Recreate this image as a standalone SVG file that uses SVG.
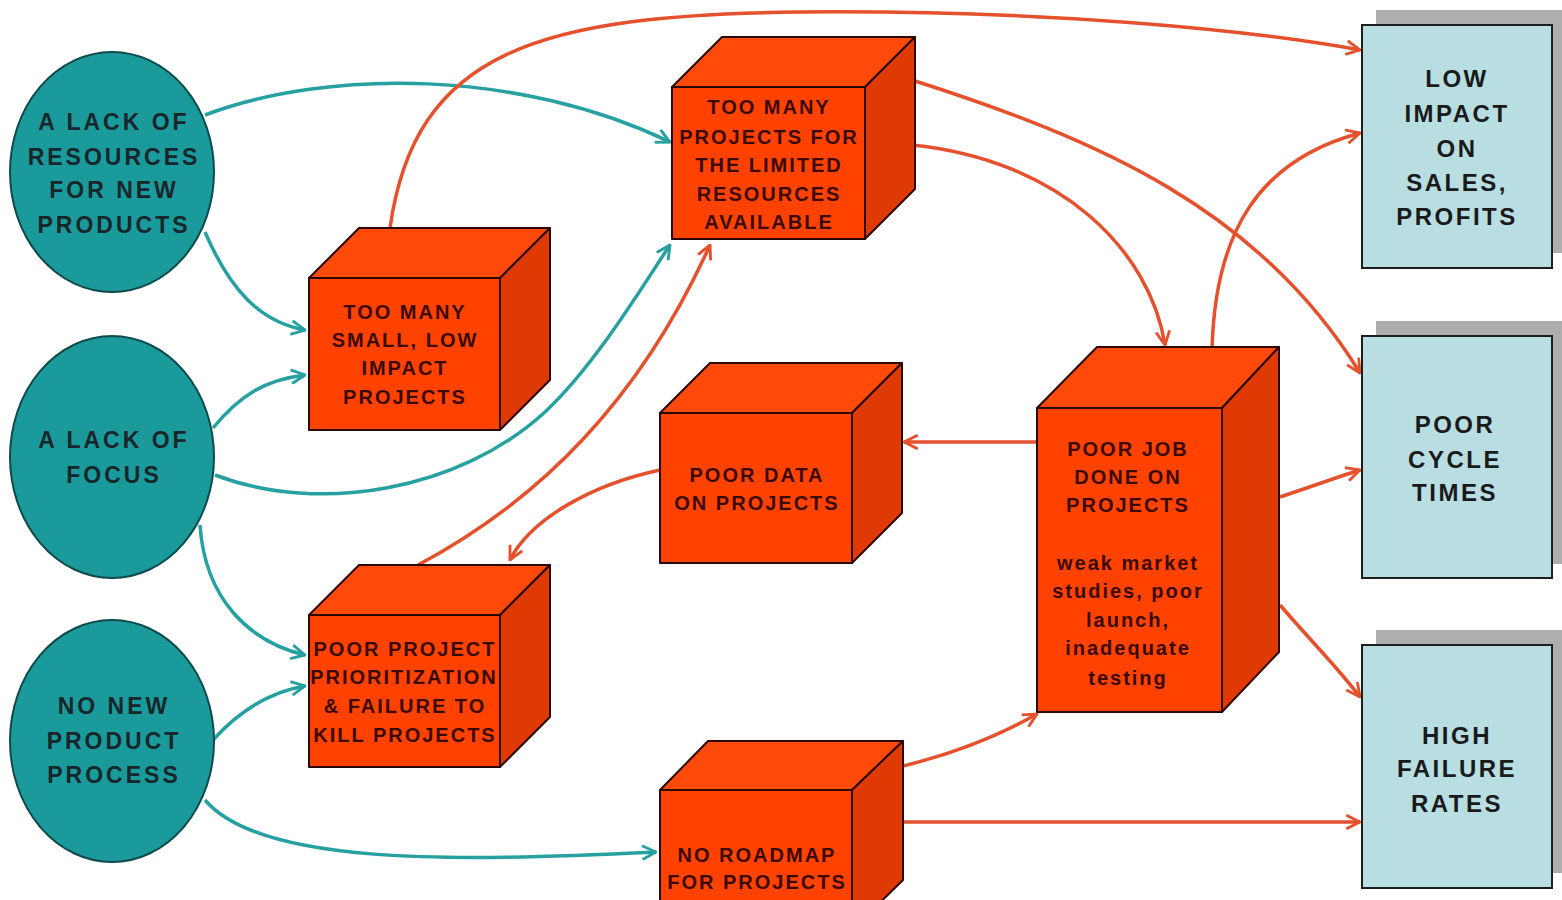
<svg xmlns="http://www.w3.org/2000/svg" width="1562" height="900" viewBox="0 0 1562 900">
<defs>
<style>
.ell{fill:#1B9A9C;stroke:#0E4A4A;stroke-width:2}
.front{fill:#FF4200;stroke:#2A0800;stroke-width:2;stroke-linejoin:round}
.top{fill:#FF4A0A;stroke:#2A0800;stroke-width:2;stroke-linejoin:round}
.side{fill:#E03A04;stroke:#2A0800;stroke-width:2;stroke-linejoin:round}
.box{fill:#B8DEE2;stroke:#1E1E1E;stroke-width:2}
.shadow{fill:#AEAEAE}
.t{font-family:"Liberation Sans",Arial,sans-serif;font-weight:bold;text-anchor:middle}
.te{font-size:23px;letter-spacing:3px;fill:#16262a}
.tc{font-size:20px;letter-spacing:2px;fill:#3A0A00}
.tb{font-size:24px;letter-spacing:2.5px;fill:#1A1A1A}
.teal{fill:none;stroke:#26A0A0;stroke-width:3.5}
.red{fill:none;stroke:#E4512C;stroke-width:3.5}
</style>
<marker id="ah-teal" viewBox="0 0 14 14" refX="13" refY="7" markerWidth="16" markerHeight="16" markerUnits="userSpaceOnUse" orient="auto">
<path d="M1,1 L13,7 L1,13" fill="none" stroke="#26A0A0" stroke-width="2.5"/>
</marker>
<marker id="ah-red" viewBox="0 0 14 14" refX="13" refY="7" markerWidth="16" markerHeight="16" markerUnits="userSpaceOnUse" orient="auto">
<path d="M1,1 L13,7 L1,13" fill="none" stroke="#E4512C" stroke-width="2.5"/>
</marker>
</defs>
<rect width="1562" height="900" fill="#FFFFFF"/>

<g id="connectors">
<path class="teal" marker-end="url(#ah-teal)" d="M205,115 C330,68 520,70 670,142"/>
<path class="teal" marker-end="url(#ah-teal)" d="M205,232 C230,290 260,322 305,330"/>
<path class="teal" marker-end="url(#ah-teal)" d="M213,428 C240,395 265,380 305,375"/>
<path class="teal" marker-end="url(#ah-teal)" d="M215,475 C320,515 460,490 545,412 C595,365 640,290 670,245"/>
<path class="teal" marker-end="url(#ah-teal)" d="M200,525 C205,600 250,642 305,655"/>
<path class="teal" marker-end="url(#ah-teal)" d="M213,740 C240,710 270,692 305,686"/>
<path class="teal" marker-end="url(#ah-teal)" d="M205,800 C260,865 450,862 656,852"/>

<path class="red" marker-end="url(#ah-red)" d="M390,228 C415,50 540,15 800,12 C1050,10 1250,30 1360,50"/>
<path class="red" marker-end="url(#ah-red)" d="M912,80 C1100,140 1260,210 1360,373"/>
<path class="red" marker-end="url(#ah-red)" d="M912,145 C1060,160 1150,250 1165,345"/>
<path class="red" marker-end="url(#ah-red)" d="M1212,350 C1215,230 1260,160 1360,133"/>
<path class="red" marker-end="url(#ah-red)" d="M1280,497 C1310,487 1335,478 1360,470"/>
<path class="red" marker-end="url(#ah-red)" d="M1280,605 C1310,640 1340,670 1360,697"/>
<path class="red" marker-end="url(#ah-red)" d="M1037,442 L904,442"/>
<path class="red" marker-end="url(#ah-red)" d="M660,470 C590,485 530,520 510,560"/>
<path class="red" marker-end="url(#ah-red)" d="M418,565 C540,500 640,400 710,245"/>
<path class="red" marker-end="url(#ah-red)" d="M903,766 C960,752 1000,735 1037,714"/>
<path class="red" marker-end="url(#ah-red)" d="M903,822 L1360,822"/>
</g>

<g id="lack-resources">
<ellipse class="ell" cx="112" cy="172" rx="102" ry="120"/>
<text class="t te" x="114" y="130">A LACK OF</text>
<text class="t te" x="114" y="165">RESOURCES</text>
<text class="t te" x="114" y="198">FOR NEW</text>
<text class="t te" x="114" y="233">PRODUCTS</text>
</g>

<g id="lack-focus">
<ellipse class="ell" cx="112" cy="457" rx="102" ry="121"/>
<text class="t te" x="114" y="448">A LACK OF</text>
<text class="t te" x="114" y="483">FOCUS</text>
</g>

<g id="no-process">
<ellipse class="ell" cx="112" cy="741" rx="102" ry="121"/>
<text class="t te" x="114" y="714">NO NEW</text>
<text class="t te" x="114" y="749">PRODUCT</text>
<text class="t te" x="114" y="783">PROCESS</text>
</g>

<g id="too-many-small">
<polygon class="top" points="309,278 359,228 550,228 500,278"/>
<polygon class="side" points="500,278 550,228 550,380 500,430"/>
<rect class="front" x="309" y="278" width="191" height="152"/>
<text class="t tc" x="405" y="319">TOO MANY</text>
<text class="t tc" x="405" y="347">SMALL, LOW</text>
<text class="t tc" x="405" y="375">IMPACT</text>
<text class="t tc" x="405" y="404">PROJECTS</text>
</g>

<g id="too-many-projects">
<polygon class="top" points="672,87 722,37 915,37 865,87"/>
<polygon class="side" points="865,87 915,37 915,189 865,239"/>
<rect class="front" x="672" y="87" width="193" height="152"/>
<text class="t tc" x="769" y="114">TOO MANY</text>
<text class="t tc" x="769" y="144">PROJECTS FOR</text>
<text class="t tc" x="769" y="172">THE LIMITED</text>
<text class="t tc" x="769" y="201">RESOURCES</text>
<text class="t tc" x="769" y="229">AVAILABLE</text>
</g>

<g id="poor-data">
<polygon class="top" points="660,413 710,363 902,363 852,413"/>
<polygon class="side" points="852,413 902,363 902,513 852,563"/>
<rect class="front" x="660" y="413" width="192" height="150"/>
<text class="t tc" x="757" y="482">POOR DATA</text>
<text class="t tc" x="757" y="510">ON PROJECTS</text>
</g>

<g id="poor-prioritization">
<polygon class="top" points="309,615 359,565 550,565 500,615"/>
<polygon class="side" points="500,615 550,565 550,717 500,767"/>
<rect class="front" x="309" y="615" width="191" height="152"/>
<text class="t tc" x="405" y="656">POOR PROJECT</text>
<text class="t tc" x="404" y="684">PRIORITIZATION</text>
<text class="t tc" x="405" y="713">&amp; FAILURE TO</text>
<text class="t tc" x="405" y="742">KILL PROJECTS</text>
</g>

<g id="no-roadmap">
<polygon class="top" points="660,790 708,741 903,741 852,790"/>
<polygon class="side" points="852,790 903,741 903,880 852,930"/>
<rect class="front" x="660" y="790" width="192" height="140"/>
<text class="t tc" x="757" y="862">NO ROADMAP</text>
<text class="t tc" x="757" y="889">FOR PROJECTS</text>
</g>

<g id="poor-job">
<polygon class="top" points="1037,408 1097,347 1279,347 1222,408"/>
<polygon class="side" points="1222,408 1279,347 1279,652 1222,712"/>
<rect class="front" x="1037" y="408" width="185" height="304"/>
<text class="t tc" x="1128" y="456">POOR JOB</text>
<text class="t tc" x="1128" y="484">DONE ON</text>
<text class="t tc" x="1128" y="512">PROJECTS</text>
<text class="t tc" x="1128" y="570">weak market</text>
<text class="t tc" x="1128" y="598">studies, poor</text>
<text class="t tc" x="1128" y="627">launch,</text>
<text class="t tc" x="1128" y="655">inadequate</text>
<text class="t tc" x="1128" y="685">testing</text>
</g>

<g id="low-impact">
<rect class="shadow" x="1376" y="10" width="190" height="243"/>
<rect class="box" x="1362" y="25" width="190" height="243"/>
<text class="t tb" x="1457" y="87">LOW</text>
<text class="t tb" x="1457" y="122">IMPACT</text>
<text class="t tb" x="1457" y="157">ON</text>
<text class="t tb" x="1457" y="191">SALES,</text>
<text class="t tb" x="1457" y="225">PROFITS</text>
</g>

<g id="poor-cycle">
<rect class="shadow" x="1376" y="321" width="190" height="243"/>
<rect class="box" x="1362" y="336" width="190" height="242"/>
<text class="t tb" x="1455" y="433">POOR</text>
<text class="t tb" x="1455" y="468">CYCLE</text>
<text class="t tb" x="1455" y="501">TIMES</text>
</g>

<g id="high-failure">
<rect class="shadow" x="1376" y="630" width="190" height="243"/>
<rect class="box" x="1362" y="645" width="190" height="243"/>
<text class="t tb" x="1457" y="744">HIGH</text>
<text class="t tb" x="1457" y="777">FAILURE</text>
<text class="t tb" x="1457" y="812">RATES</text>
</g>
</svg>
